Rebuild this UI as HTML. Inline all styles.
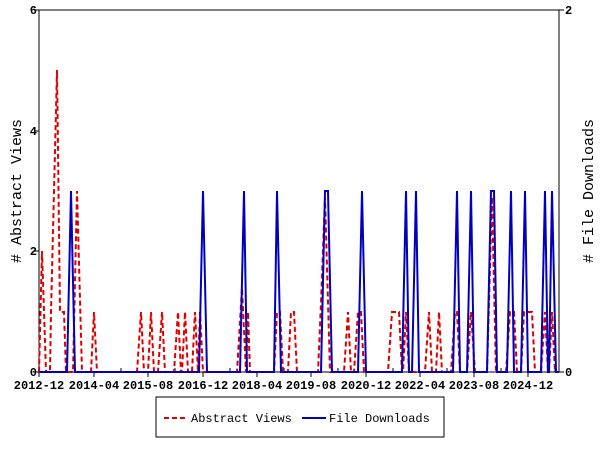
<!DOCTYPE html>
<html><head><meta charset="utf-8"><style>
html,body{margin:0;padding:0;background:#fff;}
svg{display:block;}
text{font-family:"Liberation Mono",monospace;fill:#000;}
</style></head><body>
<svg width="600" height="450" viewBox="0 0 600 450" xmlns="http://www.w3.org/2000/svg">
<rect width="600" height="450" fill="#fff"/>
<rect x="39" y="10" width="520" height="362" fill="none" stroke="#000" stroke-width="1"/>
<g stroke="#000" stroke-width="1">
<line x1="34" y1="10" x2="39" y2="10"/><line x1="34" y1="131" x2="39" y2="131"/><line x1="34" y1="251" x2="39" y2="251"/><line x1="34" y1="372" x2="39" y2="372"/>
<line x1="559" y1="10" x2="564" y2="10"/><line x1="559" y1="372" x2="564" y2="372"/>
<line x1="39" y1="372" x2="39" y2="377"/><line x1="94" y1="372" x2="94" y2="377"/><line x1="148" y1="372" x2="148" y2="377"/><line x1="203" y1="372" x2="203" y2="377"/><line x1="257" y1="372" x2="257" y2="377"/><line x1="311" y1="372" x2="311" y2="377"/><line x1="366" y1="372" x2="366" y2="377"/><line x1="420" y1="372" x2="420" y2="377"/><line x1="474" y1="372" x2="474" y2="377"/><line x1="528" y1="372" x2="528" y2="377"/>
<line x1="66" y1="372" x2="66" y2="368"/><line x1="121" y1="372" x2="121" y2="368"/><line x1="175" y1="372" x2="175" y2="368"/><line x1="230" y1="372" x2="230" y2="368"/><line x1="284" y1="372" x2="284" y2="368"/><line x1="338" y1="372" x2="338" y2="368"/><line x1="393" y1="372" x2="393" y2="368"/><line x1="447" y1="372" x2="447" y2="368"/><line x1="501" y1="372" x2="501" y2="368"/><line x1="555" y1="372" x2="555" y2="368"/>
</g>
<g font-size="12" font-weight="bold" text-anchor="end">
<text x="37" y="14">6</text><text x="37" y="135">4</text><text x="37" y="255">2</text><text x="37" y="376">0</text>
</g>
<g font-size="12" font-weight="bold" text-anchor="start">
<text x="565" y="14">2</text><text x="565" y="376">0</text>
</g>
<g font-size="12" font-weight="bold" text-anchor="middle">
<text x="39" y="389">2012-12</text><text x="94" y="389">2014-04</text><text x="148" y="389">2015-08</text><text x="203" y="389">2016-12</text><text x="257" y="389">2018-04</text><text x="311" y="389">2019-08</text><text x="366" y="389">2020-12</text><text x="420" y="389">2022-04</text><text x="474" y="389">2023-08</text><text x="528" y="389">2024-12</text>
</g>
<text font-size="15" text-anchor="middle" transform="translate(21,191) rotate(-90)">#  Abstract Views</text>
<text font-size="15" text-anchor="middle" transform="translate(593,191) rotate(-90)">#  File Downloads</text>
<polyline fill="none" stroke="#dd0000" stroke-width="2" stroke-dasharray="5,3" points="39,372 42,251 46,372 50,372 51,312 57,70 60,312 64,312 66,372 70,372 73,372 77,191 82,372 91,372 94,312 97,372 137,372 141,312 144,372 148,372 151,312 154,372 158,372 162,312 165,372 174,372 178,312 181,372 182,372 185,312 188,372 192,372 195,312 198,372 200,312 203,372 237,372 242,288 246,372 248,312 250,372 274,372 277,312 280,312 283,372 288,372 291,312 294,312 297,372 318,372 321,303 325,197 330,372 344,372 348,312 351,372 354,372 358,312 361,312 364,372 388,372 392,312 399,312 402,372 403,372 406,312 409,372 425,372 429,312 432,372 436,372 439,312 442,372 451,372 455,312 457,312 460,372 467,372 471,312 475,372 487,372 492,197 496,372 506,372 510,312 514,312 517,372 521,372 524,312 532,312 535,372 541,372 545,312 548,372 549,372 552,312 555,372"/>
<polyline fill="none" stroke="#0000c0" stroke-width="2" points="39,372 67,372 71,191 75,372 199,372 203,191 207,372 240,372 244,191 247,372 274,372 277,191 281,372 321,372 325,191 328,191 332,372 358,372 362,191 366,372 402,372 406,191 409,372 412,372 416,191 419,372 453,372 457,191 460,372 467,372 471,191 474,372 487,372 491,191 494,191 497,372 507,372 511,191 514,372 521,372 525,191 528,372 541,372 545,191 548,372 549,372 552,191 556,372 559,372"/>
<rect x="156" y="397" width="288" height="40" fill="#fff" stroke="#000" stroke-width="1"/>
<line x1="164" y1="418" x2="188" y2="418" stroke="#dd0000" stroke-width="2" stroke-dasharray="5,3"/>
<text x="191" y="422" font-size="12">Abstract Views</text>
<line x1="302" y1="418" x2="326" y2="418" stroke="#0000c0" stroke-width="2"/>
<text x="329" y="422" font-size="12">File Downloads</text>
</svg>
</body></html>
